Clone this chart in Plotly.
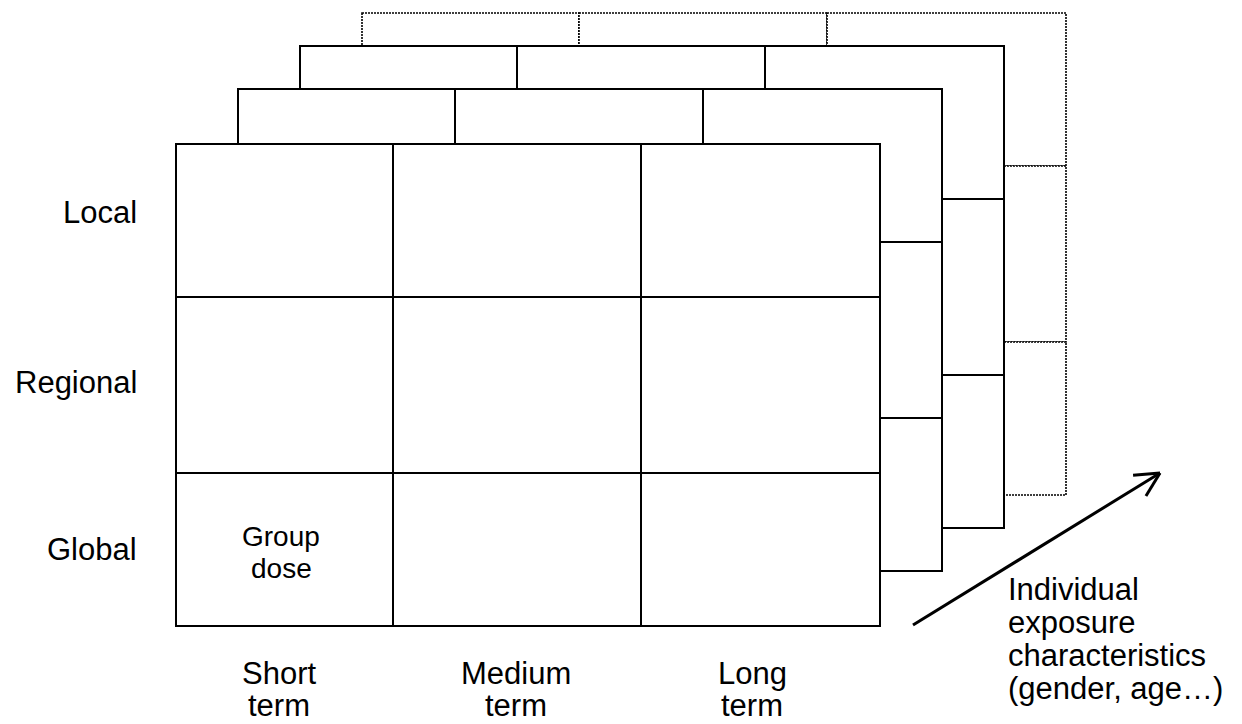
import math
import plotly.graph_objects as go

# ---- content ----
row_labels = ["Local", "Regional", "Global"]
col_labels = ["Short<br>term", "Medium<br>term", "Long<br>term"]
cell_note = "Group<br>dose"
axis_note = "Individual<br>exposure<br>characteristics<br>(gender, age…)"

# ---- layout (pixel space of the 1242x724 page) ----
W, H = 1242, 724
grid_x0 = 176
col_widths = [217, 248, 239]
row_heights = [153, 176, 153]
layer_dx = [0, 62, 124, 186]          # front -> back
layer_top = [144, 89, 46, 13]
layer_dash = ["solid", "solid", "solid", "2px,1px"]
layer_lw = [2, 2, 2, 1.6]

row_label_right = 139
row_label_baseline = [223, 393, 560]
col_label_x = [279, 516, 752]
col_label_baseline = [684, 716]
note_x, note_baseline = 281, [546, 578]
axis_note_left = 1006
axis_note_baseline = [600, 633, 666, 699]
arrow_tail = (913, 625)
arrow_tip = (1160, 473)
head_len, head_angle = 27, 27

FONT = "Liberation Sans, Arial, sans-serif"
LABEL_SIZE = 31
NOTE_SIZE = 28

fig = go.Figure()
fig.add_trace(go.Scatter(x=[0, W], y=[0, H], mode="markers",
                         marker=dict(opacity=0), hoverinfo="skip", showlegend=False))

shapes = []
# draw layers from back to front so front cells cover the hidden parts
for k in reversed(range(len(layer_dx))):
    xs = [grid_x0 + layer_dx[k]]
    for w in col_widths:
        xs.append(xs[-1] + w)
    ys = [layer_top[k]]
    for h in row_heights:
        ys.append(ys[-1] + h)
    for i in range(len(row_heights)):
        for j in range(len(col_widths)):
            shapes.append(dict(type="rect", xref="x", yref="y",
                               x0=xs[j], x1=xs[j + 1], y0=ys[i], y1=ys[i + 1],
                               fillcolor="white",
                               line=dict(color="black", width=layer_lw[k], dash=layer_dash[k])))

# arrow with open head
tx, ty = arrow_tail
hx, hy = arrow_tip
shapes.append(dict(type="line", xref="x", yref="y", x0=tx, y0=ty, x1=hx, y1=hy,
                   line=dict(color="black", width=3)))
ux, uy = tx - hx, ty - hy
n = math.hypot(ux, uy)
ux, uy = ux / n, uy / n
for sgn in (1, -1):
    a = math.radians(sgn * head_angle)
    vx = ux * math.cos(a) - uy * math.sin(a)
    vy = ux * math.sin(a) + uy * math.cos(a)
    shapes.append(dict(type="line", xref="x", yref="y", x0=hx, y0=hy,
                       x1=hx + head_len * vx, y1=hy + head_len * vy,
                       line=dict(color="black", width=3)))

annotations = []


def add_text(text, x, baseline, size, xanchor):
    annotations.append(dict(text=text, x=x, y=baseline - 0.35 * size, xref="x", yref="y",
                            showarrow=False, xanchor=xanchor, yanchor="middle",
                            font=dict(family=FONT, size=size, color="black")))


for lab, b in zip(row_labels, row_label_baseline):
    add_text(lab, row_label_right, b, LABEL_SIZE, "right")

for lab, cx in zip(col_labels, col_label_x):
    for line, b in zip(lab.split("<br>"), col_label_baseline):
        add_text(line, cx, b, LABEL_SIZE, "center")

for line, b in zip(cell_note.split("<br>"), note_baseline):
    add_text(line, note_x, b, NOTE_SIZE, "center")

for line, b in zip(axis_note.split("<br>"), axis_note_baseline):
    add_text(line, axis_note_left, b, LABEL_SIZE, "left")

fig.update_layout(
    width=W, height=H,
    margin=dict(l=0, r=0, t=0, b=0),
    paper_bgcolor="white", plot_bgcolor="white",
    xaxis=dict(range=[0, W], visible=False, fixedrange=True),
    yaxis=dict(range=[H, 0], visible=False, fixedrange=True),
    shapes=shapes, annotations=annotations,
    showlegend=False,
)

fig.write_html("out.html", config={"displayModeBar": False},
               post_script="document.body.style.margin='0';document.body.style.overflow='hidden';")
